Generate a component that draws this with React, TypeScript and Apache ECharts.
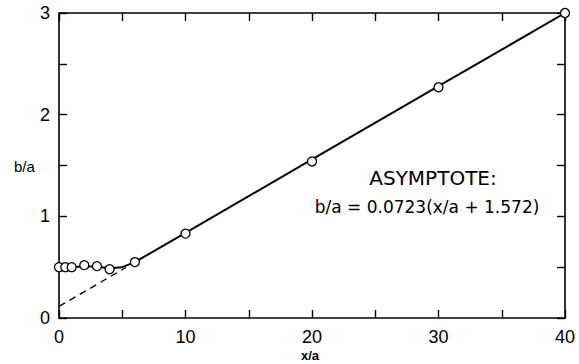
import React, { useEffect, useRef } from "react";
import * as echarts from "echarts";

const pointX = [0, 0.5, 1, 2, 3, 4, 6, 10, 20, 30, 40];
const pointY = [0.5, 0.5, 0.5, 0.52, 0.51, 0.48, 0.55, 0.83, 1.54, 2.27, 3.0];

const curveX = [0, 1, 2, 3, 4, 5, 6, 10, 20, 30, 40];
const curveY = [0.5, 0.5, 0.51, 0.505, 0.49, 0.5, 0.55, 0.837, 1.56, 2.28, 3.0];

const asymX = [0, 5.3];
const asymY = [0.114, 0.497];

const xTicks = [0, 10, 20, 30, 40];
const yTicks = [0, 1, 2, 3];

const FONT = "Liberation Sans";
const NOTE_FONT = "DejaVu Sans";

const mkLine = () => ({ show: true, onZero: false, lineStyle: { color: "#000", width: 1.6 } });
const mkTick = () => ({ show: true, inside: true, length: 8, lineStyle: { color: "#000", width: 1.4 } });

export default function App() {
  const ref = useRef<HTMLDivElement>(null);
  useEffect(() => {
    document.body.style.margin = "0";
    const chart = echarts.init(ref.current!, null, { renderer: "svg" });
    chart.setOption({
      animation: false,
      backgroundColor: "#fff",
      grid: { left: 59, right: 14, top: 13, bottom: 46 },
      xAxis: [
        {
          type: "value", min: 0, max: 40, interval: 5, position: "bottom",
          axisLine: mkLine(), axisTick: mkTick(), splitLine: { show: false },
          axisLabel: {
            inside: false, color: "#000", fontFamily: FONT, fontSize: 18, margin: 10,
            formatter: (v: number) => (xTicks.includes(v) ? String(v) : ""),
          },
        },
        {
          type: "value", min: 0, max: 40, interval: 5, position: "top",
          axisLine: mkLine(), axisTick: mkTick(), splitLine: { show: false }, axisLabel: { show: false },
        },
      ],
      yAxis: [
        {
          type: "value", min: 0, max: 3, interval: 0.5, position: "left",
          axisLine: mkLine(), axisTick: mkTick(), splitLine: { show: false },
          axisLabel: {
            inside: false, color: "#000", fontFamily: FONT, fontSize: 18, margin: 9,
            formatter: (v: number) => (yTicks.includes(v) ? String(v) : ""),
          },
        },
        {
          type: "value", min: 0, max: 3, interval: 0.5, position: "right",
          axisLine: mkLine(), axisTick: mkTick(), splitLine: { show: false }, axisLabel: { show: false },
        },
      ],
      series: [
        {
          type: "line", data: asymX.map((x, i) => [x, asymY[i]]), showSymbol: false, symbol: "none",
          lineStyle: { color: "#000", width: 1.3, type: [7, 5] }, z: 2,
        },
        {
          type: "line", data: curveX.map((x, i) => [x, curveY[i]]), showSymbol: false, symbol: "none",
          lineStyle: { color: "#000", width: 2 }, z: 3, clip: false,
        },
        {
          type: "scatter", data: pointX.map((x, i) => [x, pointY[i]]), symbol: "circle", symbolSize: 9,
          itemStyle: { color: "#fff", borderColor: "#000", borderWidth: 1.3, opacity: 1 }, z: 4, clip: false,
        },
      ],
      graphic: [
        { type: "text", left: 14, top: 159, style: { text: "b/a", font: `15px "${FONT}"`, fill: "#000" } },
        { type: "text", left: 301, top: 349, style: { text: "x/a", font: `bold 13px "${FONT}"`, fill: "#000" } },
        { type: "text", x: 433, y: 178, style: { text: "ASYMPTOTE:", font: `20px "${NOTE_FONT}"`, fill: "#000", align: "center", verticalAlign: "middle" } },
        { type: "text", x: 427, y: 207, style: { text: "b/a = 0.0723(x/a + 1.572)", font: `17px "${NOTE_FONT}"`, fill: "#000", align: "center", verticalAlign: "middle" } },
      ],
    });
    return () => chart.dispose();
  }, []);
  return <div ref={ref} style={{ width: 579, height: 364 }} />;
}
